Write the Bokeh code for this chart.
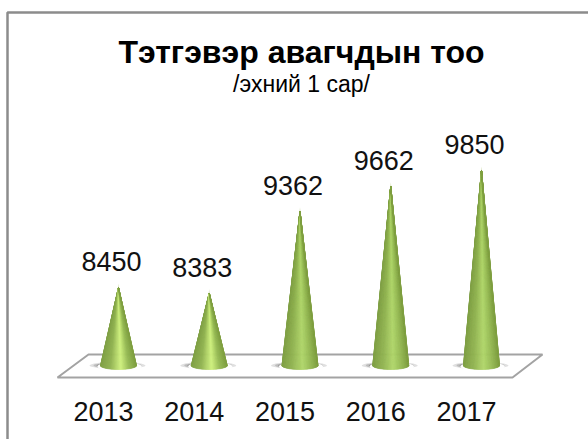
from bokeh.plotting import figure
from bokeh.models import Label
from bokeh.core.properties import value as val
from bokeh.embed import file_html
from bokeh.resources import INLINE
import numpy as np

title = "Тэтгэвэр авагчдын тоо"
subtitle = "/эхний 1 сар/"
years = ["2013", "2014", "2015", "2016", "2017"]
counts = [8450, 8383, 9362, 9662, 9850]

W, H = 588, 439
PX = 90.75            # screen px per category
PY = 0.0836           # screen px per person
x0 = (0 - 118) / PX
x1 = (W - 118) / PX
y_top = 8450 + 287 / PY
y_bot = 8450 - (H - 287) / PY
BASE = 8450 - (365 - 287) / PY   # cone base level

p = figure(width=W, height=H, x_range=(x0, x1), y_range=(y_bot, y_top),
           output_backend="svg", toolbar_location=None, min_border=0,
           outline_line_color=None, background_fill_color="white", border_fill_color="white")
p.xaxis.visible = False
p.yaxis.visible = False
p.grid.visible = False

dx = lambda v: (v - 118) / PX
dw = lambda v: v / PX
dy = lambda v: 8450 + (287 - v) / PY
dh = lambda v: v / PY

# outer frame
p.line([dx(7), dx(7), dx(590)], [dy(445), dy(12), dy(12)], line_color="#8c8c8c", line_width=2.5)

# platform
p.patch([dx(88), dx(542), dx(512), dx(57)], [dy(354), dy(354), dy(377), dy(377)],
        fill_color="white", line_color="#a3a3a3", line_width=2)

# shadows
for i in range(len(years)):
    for w, h, a in [(56, 7, 0.18), (48, 6, 0.25), (42, 5, 0.35)]:
        p.ellipse([i + dw(-1)], [dy(365)], width=dw(w), height=dh(h),
                  fill_color="#555555", fill_alpha=a, line_color=None)
    p.ellipse([i + dw(1)], [dy(366)], width=dw(44), height=dh(9), fill_color="white", line_color=None)

# cones
def lerp(a, b, t):
    return a + (b - a) * t

def shade(u, tall):
    # u is -1..1 across the cone
    peak = np.array([206, 240, 125]) if not tall else np.array([176, 214, 106])
    stops = [(-1.0, np.array([128, 160, 70])), (-0.45, np.array([144, 178, 80])),
             (0.15, peak), (0.6, np.array([150, 186, 84])), (1.0, np.array([128, 160, 66]))]
    for (a, ca), (b, cb) in zip(stops, stops[1:]):
        if a <= u <= b:
            c = lerp(ca, cb, (u - a) / (b - a))
            return "#%02x%02x%02x" % tuple(int(round(k)) for k in c)
    return "#80a046"

# faint halo above each tip
p.patches([[i - dw(1.5), i, i + dw(1.5)] for i in range(len(counts))],
          [[v - dh(6), v + dh(4), v - dh(6)] for v in counts],
          fill_color="#dfe8c8", line_color=None)

N = 60
xs, ys, cols = [], [], []
for i, v in enumerate(counts):
    tall = v > 9000
    for k in range(N):
        a = np.pi - np.pi * k / N
        b = np.pi - np.pi * (k + 1) / N
        xa, xb = np.cos(a) * dw(18), np.cos(b) * dw(18)
        ya, yb = np.sin(a) * dh(4), np.sin(b) * dh(4)
        xs.append([i, i + xa, i + xb])
        ys.append([v, BASE - ya, BASE - yb])
        cols.append(shade((np.cos(a) + np.cos(b)) / 2, tall))
p.patches(xs, ys, fill_color=cols, line_color=cols, line_width=0.6)

# value and category labels
p.text(list(range(len(counts))), counts, text=[str(v) for v in counts],
       text_font=val("Liberation Sans"), text_font_size="27px", text_color="#111111",
       text_align="center", text_baseline="middle", x_offset=-7, y_offset=-26)
p.text(list(range(len(years))), [dy(411)] * len(years), text=years,
       text_font=val("Liberation Sans"), text_font_size="27px", text_color="#111111",
       text_align="center", text_baseline="middle", x_offset=-15)

p.add_layout(Label(x=301, y=H - 51, x_units="screen", y_units="screen", text=title,
                   text_font="Liberation Sans", text_font_size="32px", text_font_style="bold",
                   text_color="black", text_align="center", text_baseline="middle"))
p.add_layout(Label(x=301, y=H - 83, x_units="screen", y_units="screen", text=subtitle,
                   text_font="Liberation Sans", text_font_size="23px", text_color="black",
                   text_align="center", text_baseline="middle"))

open("out.html", "w").write(file_html(p, INLINE))
